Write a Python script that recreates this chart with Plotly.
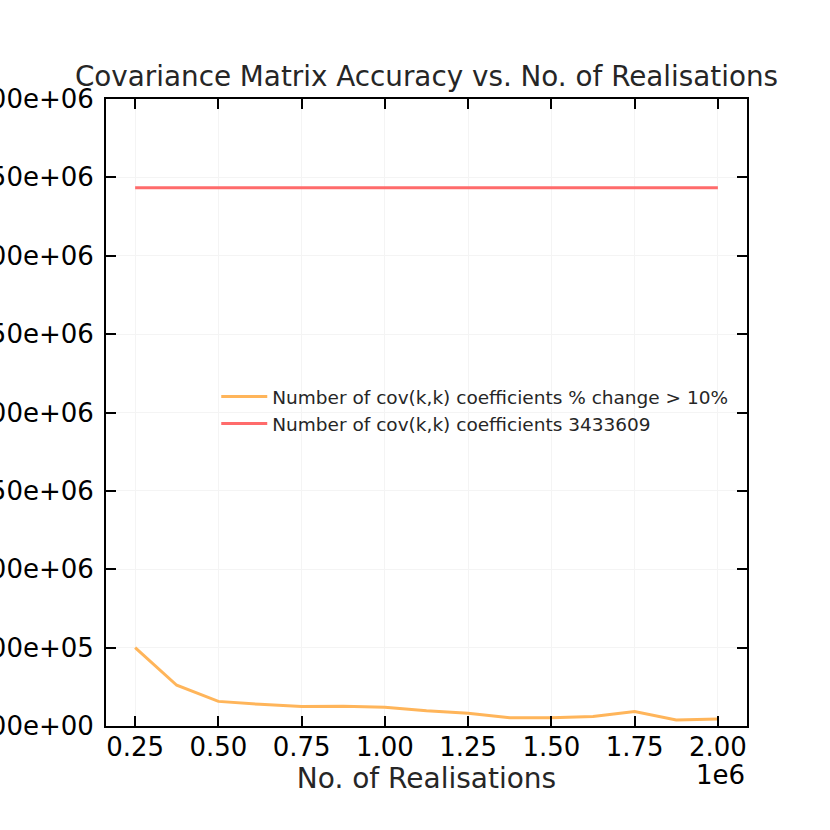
import plotly.graph_objects as go

# Number of realisations (x) and counts (y)
realisations = [250000, 375000, 500000, 625000, 750000, 875000, 1000000, 1125000,
                1250000, 1375000, 1500000, 1625000, 1750000, 1875000, 2000000]
changed_coeffs = [500000, 260000, 157000, 138000, 124000, 126000, 119000, 97000,
                  82000, 53000, 53000, 60000, 93000, 39000, 45000]
total_coeffs = [3433609] * len(realisations)

x_ticks = [250000, 500000, 750000, 1000000, 1250000, 1500000, 1750000, 2000000]
x_ticktext = ["0.25", "0.50", "0.75", "1.00", "1.25", "1.50", "1.75", "2.00"]
y_ticks = [0, 500000, 1000000, 1500000, 2000000, 2500000, 3000000, 3500000, 4000000]
y_ticktext = [f"{v:.2e}" for v in y_ticks]

font_family = "DejaVu Sans"

fig = go.Figure()

fig.add_trace(go.Scatter(
    x=realisations, y=changed_coeffs, mode="lines",
    line=dict(color="#ffb55a", width=3),
    name="Number of cov(k,k) coefficients % change > 10%"
))
fig.add_trace(go.Scatter(
    x=realisations, y=total_coeffs, mode="lines",
    line=dict(color="#ff6b6b", width=3),
    name="Number of cov(k,k) coefficients 3433609"
))

axis_common = dict(
    showline=True, linecolor="black", linewidth=2, mirror="allticks",
    ticks="inside", ticklen=10, tickwidth=2, tickcolor="black",
    showgrid=True, gridcolor="#f4f4f4", gridwidth=1, zeroline=False,
    tickfont=dict(family=font_family, size=26, color="black"),
)

fig.update_xaxes(
    range=[162500, 2087500], tickvals=x_ticks, ticktext=x_ticktext,
    ticklabelstandoff=-3,
    title=dict(text="No. of Realisations", font=dict(family=font_family, size=28, color="#262626"),
               standoff=4),
    **axis_common
)
fig.update_yaxes(
    range=[0, 4000000], tickvals=y_ticks, ticktext=y_ticktext,
    ticklabelstandoff=5,
    **axis_common
)

fig.add_annotation(
    text="1e6", xref="paper", yref="paper", x=1.0, y=-0.078,
    xanchor="right", yanchor="middle", showarrow=False,
    font=dict(family=font_family, size=26, color="black")
)

fig.update_layout(
    width=830, height=830,
    margin=dict(l=106, r=83, t=99, b=104, autoexpand=False),
    paper_bgcolor="white", plot_bgcolor="white",
    title=dict(text="Covariance Matrix Accuracy vs. No. of Realisations",
               xref="paper", x=0.5, xanchor="center", y=0.908, yanchor="middle",
               font=dict(family=font_family, size=27.8, color="#262626")),
    legend=dict(x=0.172, y=0.555, xanchor="left", yanchor="top",
                bgcolor="rgba(0,0,0,0)", itemwidth=46,
                font=dict(family=font_family, size=18.5, color="#262626")),
    showlegend=True,
)

# drop the page's default body margin so the figure sits at the window's corner
fig.write_html("out.html", config={"displayModeBar": False},
               post_script="document.body.style.margin = '0';")
